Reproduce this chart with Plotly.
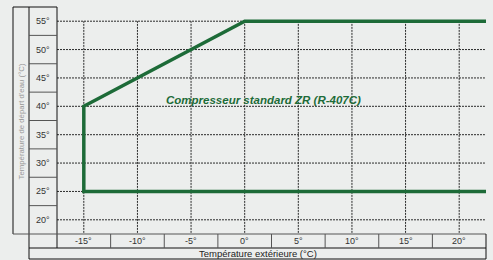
import plotly.graph_objects as go

# ---- data ----
y_ticks = [20, 25, 30, 35, 40, 45, 50, 55]
x_ticks = [-15, -10, -5, 0, 5, 10, 15, 20]
y_labels = ["20°", "25°", "30°", "35°", "40°", "45°", "50°", "55°"]
x_labels = ["-15°", "-10°", "-5°", "0°", "5°", "10°", "15°", "20°"]
envelope_x = [22.5, -15, -15, 0, 22.5]
envelope_y = [25, 25, 40, 55, 55]
series_label = "Compresseur standard ZR (R-407C)"
x_title = "Température extérieure (°C)"
y_title = "Température de départ d'eau (°C)"

X_RANGE = [-17.5, 22.5]
Y_RANGE = [17.5, 57.5]

# ---- layout geometry (pixels) ----
W, H = 493, 260
L, R, T, B = 57, 7, 7, 26
PW, PH = W - L - R, H - T - B


def px(p):
    return (p - L) / PW


def py(p):
    return (H - B - p) / PH


GREEN = "#1d6b38"
BG = "#eceeed"
GRID = "#2a2a2a"

fig = go.Figure()

# grid lines (dotted)
hx, hy = [], []
for v in y_ticks:
    hx += [X_RANGE[0], X_RANGE[1] - 0.1, None]
    hy += [v, v, None]
fig.add_trace(go.Scatter(x=hx, y=hy, mode="lines", line=dict(color=GRID, width=1, dash="2px,1px"),
                         hoverinfo="skip", showlegend=False))
vx, vy = [], []
for v in x_ticks:
    vx += [v, v, None]
    vy += [Y_RANGE[0] + 0.2, max(y_ticks), None]
fig.add_trace(go.Scatter(x=vx, y=vy, mode="lines", line=dict(color=GRID, width=1, dash="2px,1px"),
                         hoverinfo="skip", showlegend=False))

# envelope
fig.add_trace(go.Scatter(x=envelope_x, y=envelope_y, mode="lines",
                         line=dict(color=GREEN, width=3.5), showlegend=False,
                         name=series_label))

shapes = []


def line(x0, y0, x1, y1, color="#111", width=1, xref="paper", yref="paper"):
    shapes.append(dict(type="line", x0=x0, y0=y0, x1=x1, y1=y1, xref=xref, yref=yref,
                       line=dict(color=color, width=width)))


# left column frame
line(px(13), py(7), px(13), py(234))
line(px(13), py(7), px(57), py(7))
line(px(29), py(7), px(29), py(259))
line(px(57), py(7), px(57), py(248))
line(px(13), py(234), px(486), py(234), color="#555")
# y label cell separators
for v in y_ticks[1:]:
    shapes.append(dict(type="line", x0=px(29), x1=px(57), y0=v - 2.5, y1=v - 2.5,
                       xref="paper", yref="y", line=dict(color="#555", width=1)))
# bottom rows
line(px(29), py(248), px(486), py(248))
line(px(29), py(259), px(486), py(259))
line(px(486), py(234), px(486), py(259))
for v in x_ticks[1:]:
    shapes.append(dict(type="line", x0=v - 2.5, x1=v - 2.5, y0=py(234), y1=py(248),
                       xref="x", yref="paper", line=dict(color="#555", width=1)))

annotations = []
for v, t in zip(y_ticks, y_labels):
    annotations.append(dict(x=px(43), y=v, xref="paper", yref="y", text=t, showarrow=False,
                            xanchor="center", yanchor="middle",
                            font=dict(family="Liberation Sans, Arial", size=9, color="#333")))
for v, t in zip(x_ticks, x_labels):
    annotations.append(dict(x=v, y=py(241.5), xref="x", yref="paper", text=t, showarrow=False,
                            xanchor="center", yanchor="middle",
                            font=dict(family="Liberation Sans, Arial", size=9, color="#333")))
annotations.append(dict(x=px(258), y=py(253.5), xref="paper", yref="paper", text=x_title,
                        showarrow=False, xanchor="center", yanchor="middle",
                        font=dict(family="Liberation Sans, Arial", size=9.5, color="#222")))
annotations.append(dict(x=px(21), y=py(121.5), xref="paper", yref="paper", text=y_title,
                        showarrow=False, xanchor="center", yanchor="middle", textangle=-90,
                        font=dict(family="Liberation Sans, Arial", size=7.8, color="#999999")))
annotations.append(dict(x=1.75, y=41.2, xref="x", yref="y", text="<b><i>" + series_label + "</i></b>",
                        showarrow=False, xanchor="center", yanchor="middle",
                        font=dict(family="Liberation Sans, Arial", size=11.5, color=GREEN)))

fig.update_layout(
    width=W, height=H,
    margin=dict(l=L, r=R, t=T, b=B, pad=0),
    paper_bgcolor=BG, plot_bgcolor=BG,
    xaxis=dict(range=X_RANGE, showgrid=False, zeroline=False, showticklabels=False,
               showline=False, ticks="", fixedrange=True),
    yaxis=dict(range=Y_RANGE, showgrid=False, zeroline=False, showticklabels=False,
               showline=False, ticks="", fixedrange=True),
    shapes=shapes, annotations=annotations, showlegend=False,
)

fig.write_html("out.html", config={"displayModeBar": False},
               post_script="document.body.style.margin='0px';document.body.style.background='" + BG + "';")
